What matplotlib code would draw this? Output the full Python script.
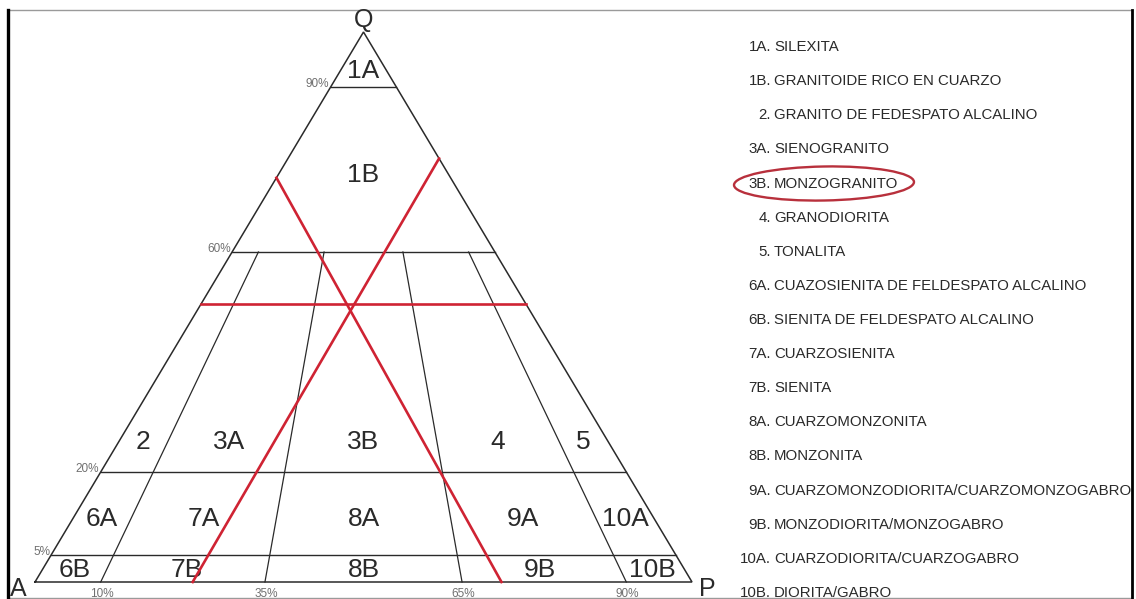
import matplotlib.pyplot as plt
from matplotlib.patches import Ellipse

plt.rcParams['font.family'] = ['Liberation Sans', 'DejaVu Sans']

# Q boundaries (%) drawn across the whole triangle
q_levels = [90, 60, 20, 5]
q_level_labels = ['90%', '60%', '20%', '5%']

# P/(A+P) boundaries (%), drawn from Q = 60 down to the A-P side
ratio_levels = [10, 35, 65, 90]
ratio_labels = ['10%', '35%', '65%', '90%']
ratio_top_q = 60

# field labels: name, Q (%), P/(A+P) (%)
field_names = ['1A', '1B',
               '2', '3A', '3B', '4', '5',
               '6A', '7A', '8A', '9A', '10A',
               '6B', '7B', '8B', '9B', '10B']
field_q = [93, 74,
           25.5, 25.5, 25.5, 25.5, 25.5,
           11.5, 11.5, 11.5, 11.5, 11.5,
           2.2, 2.2, 2.2, 2.2, 2.2]
field_ratio = [50, 50,
               5, 22.5, 50, 77.5, 95,
               5, 22.5, 50, 77.5, 95,
               5, 22.5, 50, 77.5, 95]

# red construction lines for the sample, as (Q, P) end points
sample_q = 50.5
red_line_a = [(73.5, 0.0), (0.0, 71.0)]
red_line_p = [(77.0, 23.0), (0.0, 24.0)]

legend_codes = ['1A.', '1B.', '2.', '3A.', '3B.', '4.', '5.', '6A.', '6B.',
                '7A.', '7B.', '8A.', '8B.', '9A.', '9B.', '10A.', '10B.']
legend_names = ['SILEXITA',
                'GRANITOIDE RICO EN CUARZO',
                'GRANITO DE FEDESPATO ALCALINO',
                'SIENOGRANITO',
                'MONZOGRANITO',
                'GRANODIORITA',
                'TONALITA',
                'CUAZOSIENITA DE FELDESPATO ALCALINO',
                'SIENITA DE FELDESPATO ALCALINO',
                'CUARZOSIENITA',
                'SIENITA',
                'CUARZOMONZONITA',
                'MONZONITA',
                'CUARZOMONZODIORITA/CUARZOMONZOGABRO',
                'MONZODIORITA/MONZOGABRO',
                'CUARZODIORITA/CUARZOGABRO',
                'DIORITA/GABRO']
highlight = '3B.'

W, H = 1136, 599
LINE = '#2a2a2a'
RED = '#cf2333'
TXT = '#2a2a2a'


def tern(q, p):
    # ternary (Q, P) in percent -> triangle axes coords
    return p / 100 + q / 200, q / 100


fig = plt.figure(figsize=(W / 100, H / 100), dpi=100)
fig.patch.set_facecolor('white')

bg = fig.add_axes([0, 0, 1, 1])
bg.set_xlim(0, W)
bg.set_ylim(H, 0)
bg.axis('off')

tri = fig.add_axes([35 / W, 17 / H, 657 / W, 550 / H])
tri.set_xlim(0, 1)
tri.set_ylim(0, 1)
tri.axis('off')
tri.patch.set_alpha(0)

# outline
corners = [tern(0, 0), tern(0, 100), tern(100, 0), tern(0, 0)]
tri.plot([c[0] for c in corners], [c[1] for c in corners], color=LINE, lw=1.1,
         solid_joinstyle='miter', clip_on=False)

for q, lbl in zip(q_levels, q_level_labels):
    x0, y0 = tern(q, 0)
    x1, y1 = tern(q, 100 - q)
    tri.plot([x0, x1], [y0, y1], color=LINE, lw=1.0)
    tri.annotate(lbl, (x0, y0), xytext=(-1, 2), textcoords='offset points',
                 ha='right', va='center', fontsize=8.5, color='#707070')

for r, lbl in zip(ratio_levels, ratio_labels):
    x0, y0 = tern(ratio_top_q, (100 - ratio_top_q) * r / 100)
    x1, y1 = tern(0, r)
    tri.plot([x0, x1], [y0, y1], color=LINE, lw=0.9, clip_on=False)
    tri.annotate(lbl, (x1, y1), xytext=(1, -4), textcoords='offset points',
                 ha='center', va='top', fontsize=8.5, color='#707070',
                 annotation_clip=False)

for name, q, r in zip(field_names, field_q, field_ratio):
    x, y = tern(q, (100 - q) * r / 100)
    tri.text(x, y, name, ha='center', va='center', fontsize=19, color=TXT)

# red sample lines
for line in (red_line_a, red_line_p):
    pts = [tern(q, p) for q, p in line]
    tri.plot([p[0] for p in pts], [p[1] for p in pts], color=RED, lw=1.9,
             clip_on=False, zorder=5)
xs0, ys0 = tern(sample_q, 0)
xs1, ys1 = tern(sample_q, 100 - sample_q)
tri.plot([xs0, xs1], [ys0, ys1], color=RED, lw=1.9, zorder=5)

# vertex labels
tri.annotate('Q', tern(100, 0), xytext=(0, 9), textcoords='offset points',
             ha='center', va='center', fontsize=18, color=TXT,
             annotation_clip=False)
tri.annotate('A', tern(0, 0), xytext=(-12, -5), textcoords='offset points',
             ha='center', va='center', fontsize=18, color=TXT,
             annotation_clip=False)
tri.annotate('P', tern(0, 100), xytext=(11, -5), textcoords='offset points',
             ha='center', va='center', fontsize=18, color=TXT,
             annotation_clip=False)

# legend list on the right
for i, (code, name) in enumerate(zip(legend_codes, legend_names)):
    y = 47 + i * 34.125
    bg.text(771, y, code, ha='right', va='center', fontsize=10.8, color=TXT)
    bg.text(774, y, name, ha='left', va='center', fontsize=10.8, color=TXT)
    if code == highlight:
        bg.add_patch(Ellipse((824, y), 180, 34, angle=-1, fill=False,
                             ec='#b8303c', lw=1.7))

# page frame
bg.plot([8, 1132], [10, 10], color='#9a9a9a', lw=1.0, zorder=10)
bg.plot([8, 1132], [598, 598], color='#9a9a9a', lw=1.0, zorder=10)
bg.plot([8, 8], [10, H], color='black', lw=2.4, zorder=10)
bg.plot([1132, 1132], [10, H], color='black', lw=2.0, zorder=10)

fig.savefig('out.png', dpi=100, facecolor='white')
